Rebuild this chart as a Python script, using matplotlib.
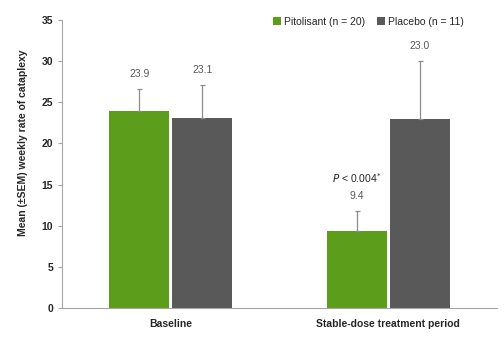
import numpy as np
import matplotlib.pyplot as plt

plt.rcParams['font.family'] = ['Liberation Sans', 'DejaVu Sans']

# Data
groups = ['Baseline', 'Stable-dose treatment period']
series = ['Pitolisant (n = 20)', 'Placebo (n = 11)']
pitolisant = [23.9, 9.4]
placebo = [23.1, 23.0]
pitolisant_sem = [2.7, 2.4]
placebo_sem = [4.0, 7.0]

colors = ['#5c9e1c', '#595959']

fig = plt.figure(figsize=(5.04, 3.41), dpi=100)
ax = fig.add_axes([0.123, 0.097, 0.863, 0.844])

x = np.arange(len(groups))
w = 0.275
gap = 0.015
offsets = [-(w + gap) / 2, (w + gap) / 2]

for vals, sems, off, col, lab in zip([pitolisant, placebo], [pitolisant_sem, placebo_sem],
                                     offsets, colors, series):
    ax.bar(x + off, vals, w, color=col, label=lab, zorder=2)
    ax.errorbar(x + off, vals, yerr=[np.zeros(len(vals)), sems], fmt='none',
                ecolor='#8c8c8c', elinewidth=0.9, capsize=1.8, capthick=0.9, zorder=3)
    for xi, v, s in zip(x + off, vals, sems):
        ax.text(xi, v + s + 1.2, f'{v:.1f}', ha='center', va='bottom',
                fontsize=7.5, color='#595959')

# p-value annotation above the stable-dose pitolisant bar
xp = x[1] + offsets[0]
ax.text(xp, pitolisant[1] + pitolisant_sem[1] + 3.2, r'$\it{P}$ < 0.004$^{*}$',
        ha='center', va='bottom', fontsize=7.5, color='#262626')

ax.set_xlim(-0.5, 1.5)
ax.set_ylim(0, 35)
ax.set_yticks(np.arange(0, 36, 5))
ax.set_xticks(x)
ax.set_xticklabels(groups, fontsize=7.5, fontweight='bold', color='#262626')
ax.tick_params(axis='x', length=0, pad=8)
ax.tick_params(axis='y', labelsize=7.5, length=3, color='#a6a6a6', labelcolor='#262626')
for t in ax.get_yticklabels():
    t.set_fontweight('bold')
ax.set_ylabel('Mean (±SEM) weekly rate of cataplexy', fontsize=7.5, fontweight='bold',
              color='#262626')
ax.yaxis.set_label_coords(-0.078, 0.573)

for s in ['top', 'right']:
    ax.spines[s].set_visible(False)
for s in ['left', 'bottom']:
    ax.spines[s].set_color('#a6a6a6')
    ax.spines[s].set_linewidth(0.8)

leg = ax.legend(loc='upper right', ncol=2, frameon=False, fontsize=7.5,
                handlelength=0.7, handleheight=0.7, handletextpad=0.3,
                columnspacing=1.2, bbox_to_anchor=(0.945, 1.045))
for t in leg.get_texts():
    t.set_color('#262626')

fig.savefig('out.png', dpi=100)
